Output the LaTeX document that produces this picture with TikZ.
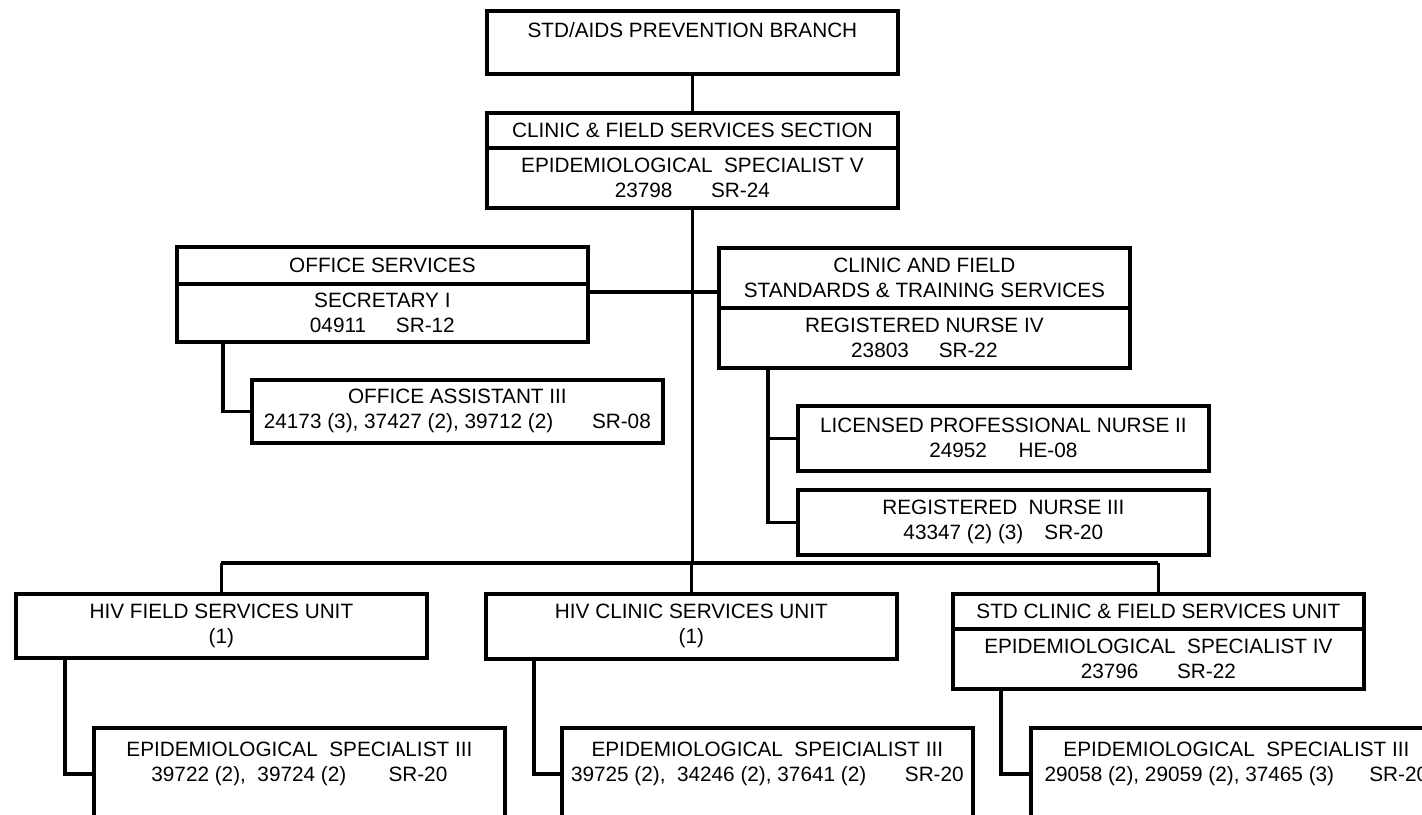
\documentclass[tikz,border=0pt]{standalone}
\usepackage{fontspec}
\setmainfont{Liberation Sans}
\newcommand{\orgfont}{\fontsize{5.9}{7.1}\selectfont}
\tikzset{
  orgbox/.style={draw, line width=1pt, anchor=north west, inner sep=0pt,
    align=center, font=\orgfont, minimum width=4.11cm},
  link/.style={line width=1pt},
}
\begin{document}
\begin{tikzpicture}[x=0.01cm, y=-0.01cm]
   \useasboundingbox (0,0) rectangle (1422,814);
   \clip (0,0) rectangle (1422,814);

   % Branch and section head
   \node[orgbox, minimum height=0.63cm] (branch) at (485,9) {STD/AIDS PREVENTION BRANCH\\~};
   \node[orgbox, minimum height=0.35cm] (sechead) at (485,111) {CLINIC \& FIELD SERVICES SECTION};
   \node[orgbox, minimum height=0.60cm] (secbody) at (485,146) {EPIDEMIOLOGICAL\ \ SPECIALIST V\\23798\hspace{11pt}SR-24};

   % Office services side
   \node[orgbox, minimum height=0.37cm] (offhead) at (175,245) {OFFICE SERVICES};
   \node[orgbox, minimum height=0.58cm] (offbody) at (175,282) {SECRETARY I\\04911\hspace{8.5pt}SR-12};
   \node[orgbox, minimum height=0.63cm] (offasst) at (250,378) {OFFICE ASSISTANT III\\24173 (3), 37427 (2), 39712 (2)\hspace{11pt}SR-08};

   % Standards & training side
   \node[orgbox, minimum height=0.60cm] (stdhead) at (717,246) {CLINIC AND FIELD\\STANDARDS \& TRAINING SERVICES};
   \node[orgbox, minimum height=0.60cm] (stdbody) at (717,306) {REGISTERED NURSE IV\\23803\hspace{8.5pt}SR-22};
   \node[orgbox, minimum height=0.65cm] (lpn) at (796,404) {LICENSED PROFESSIONAL NURSE II\\24952\hspace{9pt}HE-08};
   \node[orgbox, minimum height=0.65cm] (rn3) at (796,488) {REGISTERED\ \ NURSE III\\43347 (2) (3)\hspace{6pt}SR-20};

   % Units
   \node[orgbox, minimum height=0.64cm] (hivf) at (14,592) {HIV FIELD SERVICES UNIT\\(1)};
   \node[orgbox, minimum height=0.65cm] (hivc) at (484,592) {HIV CLINIC SERVICES UNIT\\(1)};
   \node[orgbox, minimum height=0.35cm] (stdhead2) at (951,592) {STD CLINIC \& FIELD SERVICES UNIT};
   \node[orgbox, minimum height=0.60cm] (stdbody2) at (951,627) {EPIDEMIOLOGICAL\ \ SPECIALIST IV\\23796\hspace{11pt}SR-22};

   % Specialists under each unit (run off the page)
   \node[orgbox, minimum height=0.92cm] (epf) at (92,726) {EPIDEMIOLOGICAL\ \ SPECIALIST III\\39722 (2),\ \ 39724 (2)\hspace{12pt}SR-20\\~};
   \node[orgbox, minimum height=0.92cm] (epc) at (560,726) {EPIDEMIOLOGICAL\ \ SPEICIALIST III\\39725 (2),\ \ 34246 (2), 37641 (2)\hspace{11pt}SR-20\\~};
   \node[orgbox, minimum height=0.92cm] (eps) at (1029,726) {EPIDEMIOLOGICAL\ \ SPECIALIST III\\29058 (2), 29059 (2), 37465 (3)\hspace{10pt}SR-20\\~};

   % Trunk, office link and unit bus
   \coordinate (offjoin) at (690,292);
   \coordinate (bus) at (690,563);
   \draw[link] (branch.south) -- (sechead.north);
   \draw[link] (secbody.south) -- (secbody.south |- bus);
   \draw[link] (offbody.east |- offjoin) -- (stdhead.west |- offjoin);
   \draw[link] (hivf.north |- bus) -- (stdhead2.north |- bus);
   \foreach \u in {hivf,hivc,stdhead2}
      \draw[link] (\u.north |- bus) -- (\u.north);

   % Elbow links down to the staff boxes
   \draw[link] ([xshift=0.48cm]offbody.south west) |- (offasst.west);
   \draw[link] ([xshift=0.51cm]stdbody.south west) |- (lpn.west);
   \draw[link] ([xshift=0.51cm]stdbody.south west) |- (rn3.west);
   \draw[link] ([xshift=0.51cm]hivf.south west) |- (epf.west);
   \draw[link] ([xshift=0.50cm]hivc.south west) |- (epc.west);
   \draw[link] ([xshift=0.50cm]stdbody2.south west) |- (eps.west);
\end{tikzpicture}
\end{document}
